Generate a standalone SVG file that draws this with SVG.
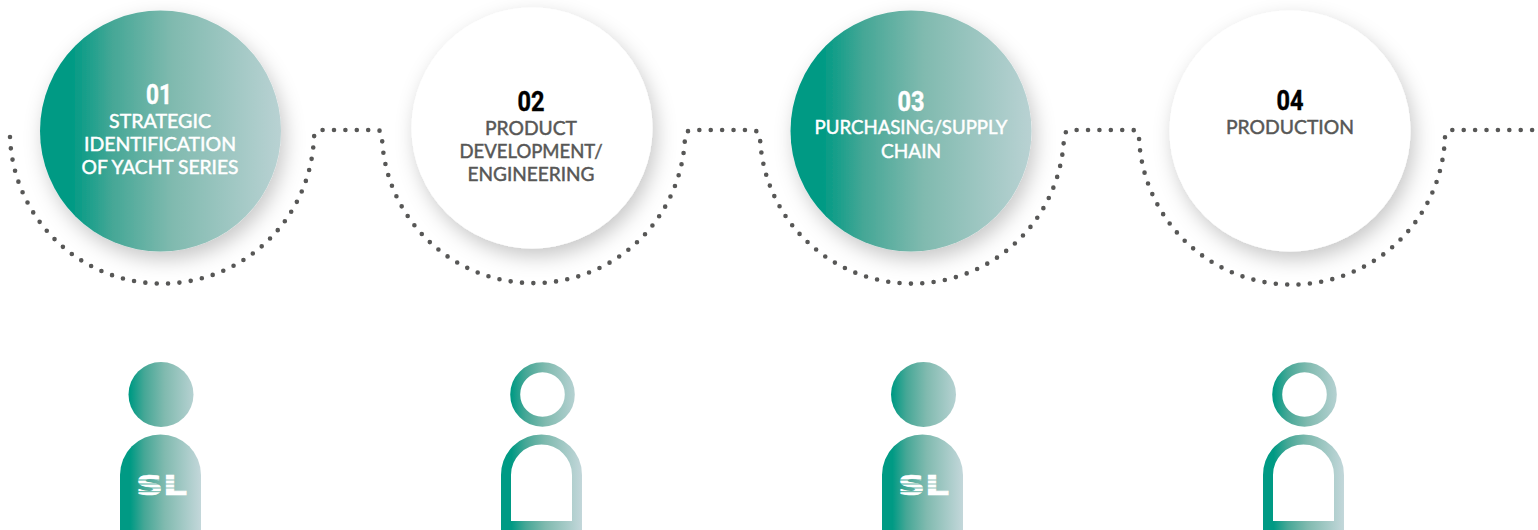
<svg xmlns="http://www.w3.org/2000/svg" width="1538" height="530" viewBox="0 0 1538 530">
<defs>
<linearGradient id="g1" gradientUnits="userSpaceOnUse" x1="40" x2="281" y1="0" y2="0"><stop offset="0.13" stop-color="#009a84"/><stop offset="0.3" stop-color="#45a796"/><stop offset="0.55" stop-color="#80baaf"/><stop offset="1" stop-color="#b9d2d3"/></linearGradient>
<linearGradient id="g3" gradientUnits="userSpaceOnUse" x1="791" x2="1032" y1="0" y2="0"><stop offset="0.13" stop-color="#009a84"/><stop offset="0.3" stop-color="#45a796"/><stop offset="0.55" stop-color="#80baaf"/><stop offset="1" stop-color="#b9d2d3"/></linearGradient>
<linearGradient id="p1" gradientUnits="userSpaceOnUse" x1="120" x2="201" y1="0" y2="0"><stop offset="0.13" stop-color="#009a84"/><stop offset="0.3" stop-color="#45a796"/><stop offset="0.55" stop-color="#80baaf"/><stop offset="1" stop-color="#c3d7da"/></linearGradient>
<linearGradient id="p2" gradientUnits="userSpaceOnUse" x1="501" x2="582" y1="0" y2="0"><stop offset="0.13" stop-color="#009a84"/><stop offset="0.3" stop-color="#45a796"/><stop offset="0.55" stop-color="#80baaf"/><stop offset="1" stop-color="#c3d7da"/></linearGradient>
<linearGradient id="p3" gradientUnits="userSpaceOnUse" x1="882" x2="963" y1="0" y2="0"><stop offset="0.13" stop-color="#009a84"/><stop offset="0.3" stop-color="#45a796"/><stop offset="0.55" stop-color="#80baaf"/><stop offset="1" stop-color="#c3d7da"/></linearGradient>
<linearGradient id="p4" gradientUnits="userSpaceOnUse" x1="1263" x2="1344" y1="0" y2="0"><stop offset="0.13" stop-color="#009a84"/><stop offset="0.3" stop-color="#45a796"/><stop offset="0.55" stop-color="#80baaf"/><stop offset="1" stop-color="#c3d7da"/></linearGradient>
<filter id="sh" x="-20%" y="-20%" width="145%" height="145%"><feDropShadow dx="4" dy="8" stdDeviation="10" flood-color="#000" flood-opacity="0.22"/></filter>
</defs>
<style>
.num{font-family:"Roboto","Liberation Sans",sans-serif;font-weight:700;font-size:27px;text-anchor:middle;stroke-width:.4}
.lab{font-family:"Lato","Noto Sans",sans-serif;font-weight:400;font-size:18.5px;text-anchor:middle;stroke-width:.45}
.w{fill:#fff;stroke:#fff}.d{fill:#575756;stroke:#575756}.k{fill:#000;stroke:#000}
.dots{fill:none;stroke:#575756;stroke-width:4.6;stroke-linecap:round;stroke-dasharray:0 11.4}
.sl{font-family:"DejaVu Sans",sans-serif;font-weight:700;font-size:26px;fill:#fff;stroke:#fff;stroke-width:.7}
</style>
<g id="connectors"><path class="dots" d="M10,137 A152.1,152.1 0 0 0 314,137 Q315,130 322,130 L378,130 Q382,131 382,137 A151.6,151.6 0 0 0 685,137 Q686,130 692,130 L753,130 Q759,131 760,137 A152.1,152.1 0 0 0 1064,137 Q1065,130 1071,130 L1133,130 Q1139,131 1139,137 A153.1,153.1 0 0 0 1445,137 Q1446,130 1452,130 L1536,130"/></g>
<g id="node-01"><circle cx="160.5" cy="131" r="120.5" fill="url(#g1)" filter="url(#sh)"/>
<text class="num w" x="159" y="104" textLength="26" lengthAdjust="spacingAndGlyphs">01</text>
<text class="lab w" x="160" y="128" textLength="102" lengthAdjust="spacingAndGlyphs">STRATEGIC</text>
<text class="lab w" x="160" y="151" textLength="152" lengthAdjust="spacingAndGlyphs">IDENTIFICATION</text>
<text class="lab w" x="160" y="174" textLength="157" lengthAdjust="spacingAndGlyphs">OF YACHT SERIES</text></g>
<g id="node-02"><circle cx="532" cy="128" r="120.5" fill="#fff" filter="url(#sh)"/>
<text class="num k" x="531" y="110.5" textLength="27" lengthAdjust="spacingAndGlyphs">02</text>
<text class="lab d" x="531" y="135" textLength="92" lengthAdjust="spacingAndGlyphs">PRODUCT</text>
<text class="lab d" x="531" y="157.5" textLength="143" lengthAdjust="spacingAndGlyphs">DEVELOPMENT/</text>
<text class="lab d" x="531" y="180.5" textLength="127" lengthAdjust="spacingAndGlyphs">ENGINEERING</text></g>
<g id="node-03"><circle cx="911" cy="131" r="120.5" fill="url(#g3)" filter="url(#sh)"/>
<text class="num w" x="911" y="110.5" textLength="27" lengthAdjust="spacingAndGlyphs">03</text>
<text class="lab w" x="911" y="134" textLength="193" lengthAdjust="spacingAndGlyphs">PURCHASING/SUPPLY</text>
<text class="lab w" x="911" y="157.5" textLength="60" lengthAdjust="spacingAndGlyphs">CHAIN</text></g>
<g id="node-04"><circle cx="1290" cy="131" r="120.5" fill="#fff" filter="url(#sh)"/>
<text class="num k" x="1290" y="110" textLength="27" lengthAdjust="spacingAndGlyphs">04</text>
<text class="lab d" x="1290" y="134" textLength="128" lengthAdjust="spacingAndGlyphs">PRODUCTION</text></g>
<g id="person-01"><circle cx="161" cy="394.5" r="32.5" fill="url(#p1)"/><path d="M120,530V475A40.5,40.5 0 0 1 201,475V530Z" fill="url(#p1)"/>
<text class="sl" x="136" y="495" textLength="51" lengthAdjust="spacingAndGlyphs">SL</text>
<path d="M134,480h56M134,484h56M134,488h56M134,491.7h30" stroke="url(#p1)" stroke-width="1" fill="none"/></g>
<g id="person-02"><circle cx="542.5" cy="394.5" r="27.3" fill="none" stroke="url(#p2)" stroke-width="10"/><path d="M506,530V475A35.5,35.5 0 0 1 577,475V526H506Z" fill="none" stroke="url(#p2)" stroke-width="10"/></g>
<g id="person-03"><circle cx="923.5" cy="394.5" r="32.5" fill="url(#p3)"/><path d="M882,530V475A40.5,40.5 0 0 1 963,475V530Z" fill="url(#p3)"/>
<text class="sl" x="898" y="495" textLength="51" lengthAdjust="spacingAndGlyphs">SL</text>
<path d="M896,480h56M896,484h56M896,488h56M896,491.7h30" stroke="url(#p3)" stroke-width="1" fill="none"/></g>
<g id="person-04"><circle cx="1304.5" cy="394.5" r="27.3" fill="none" stroke="url(#p4)" stroke-width="10"/><path d="M1268,530V475A35.5,35.5 0 0 1 1339,475V526H1268Z" fill="none" stroke="url(#p4)" stroke-width="10"/></g>
</svg>
